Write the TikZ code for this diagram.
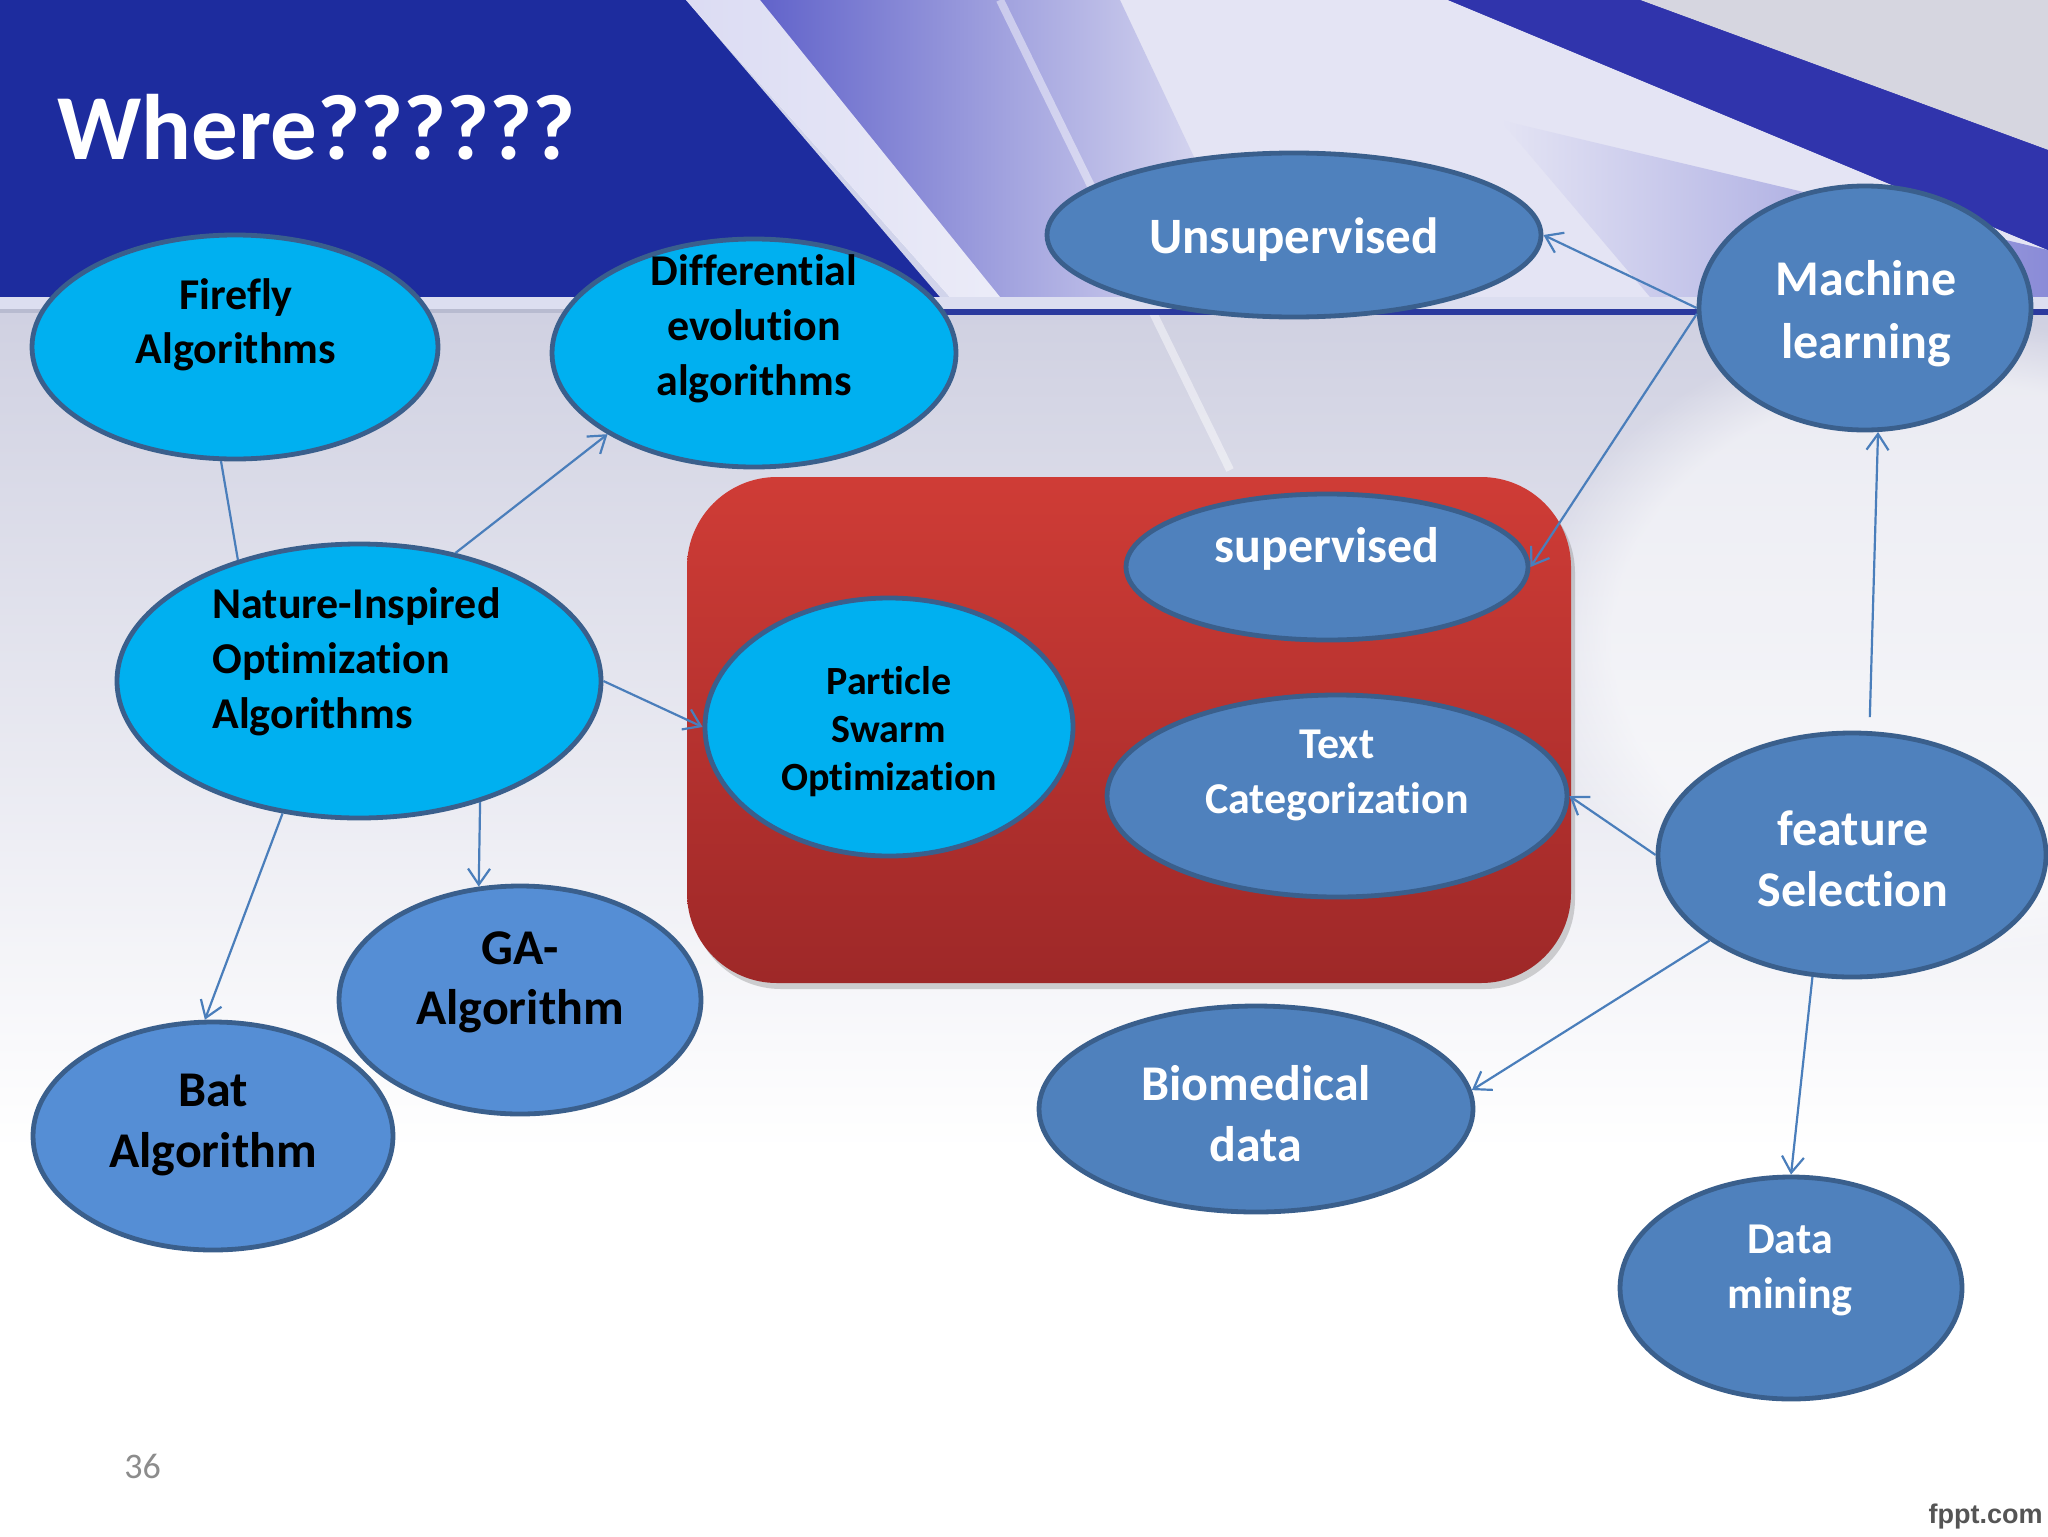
\documentclass[tikz,border=0pt]{standalone}
\usepackage{fontspec}
\setmainfont{Carlito}[Ligatures=NoCommon]
\newfontfamily\arialfont{Liberation Sans}
\usetikzlibrary{arrows.meta,shapes.geometric,shadows,fadings}
\definecolor{bannerblue}{HTML}{1D2C9E}
\definecolor{cyanfill}{HTML}{00B0F0}
\definecolor{steelfill}{HTML}{4F81BD}
\definecolor{lightsteel}{HTML}{558ED5}
\definecolor{edgeblue}{HTML}{3A5F8C}
\definecolor{arrowblue}{HTML}{4A7EBB}
\definecolor{redtop}{HTML}{CF3C36}
\definecolor{redbot}{HTML}{9E2828}
\definecolor{bodygray}{HTML}{CFD0E1}
\definecolor{darkband}{HTML}{3537B0}
\definecolor{lav}{HTML}{4E50C4}
\definecolor{palelav}{HTML}{E4E4F4}
\definecolor{graytex}{HTML}{D6D6E0}
\definecolor{bandlight}{HTML}{DCDEF0}
\definecolor{lineblue}{HTML}{2B3A9E}
\definecolor{linegray}{HTML}{B8BBD0}
\definecolor{numgray}{HTML}{8C8C8C}
\definecolor{fpgray}{HTML}{555555}
\newcommand{\setfs}[2]{\fontsize{#1}{#2}\selectfont}
\begin{document}
\begin{tikzpicture}[x=0.5pt,y=-0.5pt,
  ell/.style={ellipse, draw=edgeblue, line width=2.4pt, inner sep=0pt},
  cyannode/.style={ell, fill=cyanfill},
  steelnode/.style={ell, fill=steelfill},
  lsteelnode/.style={ell, fill=lightsteel},
  lbl/.style={align=center, inner sep=0pt},
  conn/.style={draw=arrowblue, line width=1.1pt},
  arr/.style={conn, -{Straight Barb[length=8pt,width=11pt]}},
]
\useasboundingbox (0,0) rectangle (2048,1536);
% ---------- background ----------
\fill[white] (0,0) rectangle (2048,1536);
\shade[top color=bodygray, bottom color=white] (0,297) rectangle (2048,1150);
\fill[white, opacity=0.55, path fading=circle with fuzzy edge 20 percent] (1950,640) ellipse (420 and 320);
\fill[bannerblue] (0,0) rectangle (2048,297);
\fill[palelav] (686,0) -- (1448,0) -- (2048,250) -- (2048,297) -- (950,297) -- cycle;
\shade[left color=lav, right color=palelav] (686,0) -- (1120,0) -- (1260,297) -- (950,297) -- cycle;
\shade[left color=palelav, right color=lav!60!palelav] (1500,120) -- (2048,250) -- (2048,297) -- (1650,297) -- cycle;
\fill[graytex] (1640,0) -- (2048,0) -- (2048,150) -- cycle;
\fill[darkband, opacity=0.8] (1448,0) -- (1640,0) -- (2048,150) -- (2048,250) -- cycle;
\fill[white, opacity=0.8] (686,0) -- (760,0) -- (1000,297) -- (940,297) -- cycle;
\draw[white, line width=4pt, opacity=0.45] (1000,0) -- (1230,470);
\fill[bandlight] (0,297) rectangle (2048,310);
\fill[linegray] (0,309) rectangle (900,313);
\fill[lineblue] (900,309) rectangle (2048,315);
% ---------- title ----------
\node[anchor=base west, inner sep=0pt, text=white, font=\bfseries\setfs{46.5}{50}] (title) at (57,159) {Where??????};
% ---------- red box ----------
\node[rounded corners=45pt, top color=redtop, bottom color=redbot, minimum width=442pt, minimum height=253pt,
  drop shadow={shadow xshift=2pt, shadow yshift=-3pt, opacity=0.35}] (redbox) at (1129,730) {};
% ---------- ellipses ----------
\node[cyannode, minimum width=203pt, minimum height=112pt] (firefly) at (235,347) {};
\node[cyannode, minimum width=202pt, minimum height=114pt] (diff) at (754,353) {};
\node[steelnode, minimum width=247pt, minimum height=82pt] (uns) at (1294,235) {};
\node[steelnode, minimum width=166pt, minimum height=122pt] (ml) at (1865,308) {};
\node[steelnode, minimum width=201pt, minimum height=73pt] (sup) at (1327,567) {};
\node[cyannode, minimum width=184pt, minimum height=129pt] (pso) at (889,727) {};
\node[steelnode, minimum width=230pt, minimum height=101pt] (tc) at (1337,796) {};
\node[cyannode, minimum width=242pt, minimum height=137pt] (nature) at (359,681) {};
\node[lsteelnode, minimum width=181pt, minimum height=114pt] (ga) at (520,1000) {};
\node[lsteelnode, minimum width=180pt, minimum height=114pt] (bat) at (213,1136) {};
\node[steelnode, minimum width=194pt, minimum height=122pt] (fs) at (1852,855) {};
\node[steelnode, minimum width=217pt, minimum height=103pt] (bio) at (1256,1109) {};
\node[steelnode, minimum width=171pt, minimum height=111pt] (dm) at (1791,1288) {};
% ---------- labels ----------
\node[lbl, font=\bfseries\setfs{22}{27}] (tfirefly) at (236,325) {Firefly\\Algorithms};
\node[lbl, font=\bfseries\setfs{22}{27.5}] (tdiff) at (754,329) {Differential\\evolution\\algorithms};
\node[lbl, text=white, font=\bfseries\setfs{25.5}{30}] (tuns) at (1294,240) {Unsupervised};
\node[lbl, text=white, font=\bfseries\setfs{25}{31.5}] (tml) at (1866,314) {Machine\\learning};
\node[lbl, text=white, font=\bfseries\setfs{25}{30}] (tsup) at (1327,549) {supervised};
\node[lbl, font=\bfseries\setfs{20}{24}] (tpso) at (889,732) {Particle\\Swarm\\Optimization};
\node[lbl, text=white, font=\bfseries\setfs{22}{27.5}] (ttc) at (1337,775) {Text\\Categorization};
\node[lbl, align=left, anchor=west, font=\bfseries\setfs{22}{27.5}] (tnature) at (212,662) {Nature-Inspired\\Optimization\\Algorithms};
\node[lbl, font=\bfseries\setfs{25}{30}] (tga) at (520,982) {GA-\\Algorithm};
\node[lbl, font=\bfseries\setfs{25}{30.5}] (tbat) at (213,1125) {Bat\\Algorithm};
\node[lbl, text=white, font=\bfseries\setfs{25}{30.5}] (tfs) at (1853,859) {feature\\Selection};
\node[lbl, text=white, font=\bfseries\setfs{25}{30.5}] (tbio) at (1256,1114) {Biomedical\\data};
\node[lbl, text=white, font=\bfseries\setfs{22}{27.5}] (tdm) at (1790,1270) {Data\\mining};
% ---------- connectors ----------
\draw[conn] (nature.135) -- (firefly.263);
\draw[arr] (nature.53) -- (diff.209);
\draw[arr] (nature.0) -- (pso.180);
\draw[arr] (nature.-45.5) -- (ga.110.6);
\draw[arr] (nature.240.5) -- (bat.94);
\draw[arr] (ml.180) -- (uns.0);
\draw[arr] (ml.182) -- (sup.0);
\draw[arr, shorten <=7pt] (fs.82) -- (ml.-84);
\draw[arr] (fs.180) -- (tc.0);
\draw[arr] (fs.211) -- (bio.5);
\draw[arr] (fs.-108) -- (dm.90);
% ---------- footer ----------
\node[anchor=base west, inner sep=0pt, text=numgray, font=\setfs{18}{20}] (pagenum) at (124,1478) {36};
\node[anchor=base east, inner sep=0pt, text=fpgray, font=\arialfont\bfseries\setfs{13.5}{15}] (fppt) at (2043,1523) {fppt.com};
\end{tikzpicture}
\end{document}
